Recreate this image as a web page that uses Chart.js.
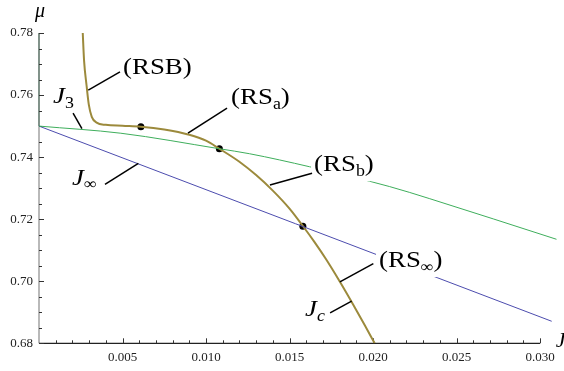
<!DOCTYPE html>
<html>
<head>
<meta charset="utf-8">
<script src="https://cdn.jsdelivr.net/npm/chart.js@4.4.0/dist/chart.umd.min.js"></script>
<style>
  html, body { margin: 0; padding: 0; background: #fff; }
  #wrap { width: 564px; height: 371px; }
</style>
</head>
<body>
<div id="wrap"><canvas id="chart"></canvas></div>
<script>
// Valori: J in ascissa, mu in ordinata
const rsbJ  = [0.00262, 0.00270, 0.00285, 0.00298, 0.00316, 0.00345, 0.0040, 0.0050, 0.0061, 0.0075, 0.0090, 0.0100, 0.0108, 0.0120, 0.0130, 0.0140, 0.0150, 0.0158, 0.0165, 0.0172, 0.0180, 0.0188, 0.0195, 0.0201];
const rsbMu = [0.7800, 0.7710, 0.7630, 0.7570, 0.7530, 0.7511, 0.7504, 0.7501, 0.7498, 0.7489, 0.7472, 0.7453, 0.7427, 0.7385, 0.7342, 0.7292, 0.7234, 0.7178, 0.7126, 0.7070, 0.7000, 0.6926, 0.6859, 0.6800];

const j3J  = [0, 0.0049, 0.0108, 0.0126, 0.0162, 0.0210, 0.0234, 0.0310];
const j3Mu = [0.7500, 0.7477, 0.7427, 0.7411, 0.7369, 0.7305, 0.7266, 0.7135];

const jInfJ  = [0, 0.0307];
const jInfMu = [0.7500, 0.6871];

const dotJ  = [0.0061, 0.0108, 0.0158];
const dotMu = [0.7498, 0.7427, 0.7177];

// Tick etichettati
const xTicks = [0.005, 0.010, 0.015, 0.020, 0.025, 0.030];
const yTicks = [0.68, 0.70, 0.72, 0.74, 0.76, 0.78];

// Etichette: testo (r = normale, i = corsivo, s = pedice), ancoraggio e linea di richiamo
const labelParts = [
    [['(RSB)', 'r']],
    [['J', 'i'], ['3', 's']],
    [['J', 'i'], ['∞', 's']],
    [['(RS', 'r'], ['a', 's'], [')', 'r']],
    [['(RS', 'r'], ['b', 's'], [')', 'r']],
    [['(RS', 'r'], ['∞', 's'], [')', 'r']],
    [['J', 'i'], ['c', 'si']]
];
const labelJ   = [0.00503, 0.00084, 0.00198, 0.01150, 0.01647, 0.02036, 0.01593];
const labelMu  = [0.7687, 0.7594, 0.7332, 0.7590, 0.7374, 0.7065, 0.6907];
const leadFromJ  = [0.00295, 0.00204, 0.00395, 0.00892, 0.01383, 0.01802, 0.01743];
const leadFromMu = [0.7616, 0.7542, 0.7312, 0.7477, 0.7310, 0.6998, 0.6898];
const leadToJ    = [0.00485, 0.00257, 0.00595, 0.01126, 0.01635, 0.02002, 0.01872];
const leadToMu   = [0.7675, 0.7492, 0.7380, 0.7558, 0.7348, 0.7057, 0.6936];

const SERIF = "'Liberation Serif', 'DejaVu Serif', serif";
const STRETCH = 1.12; // il testo dell'originale è un po' più largo
const toPoints = (xs, ys) => xs.map((x, i) => ({ x, y: ys[i] }));

const partFont = (st) =>
    st === 'r'  ? `24px ${SERIF}` :
    st === 'i'  ? `italic 24px ${SERIF}` :
    st === 'si' ? `italic 16px ${SERIF}` : `16px ${SERIF}`;

// Assi in stile Mathematica: tacche verso l'interno
const frameAxes = {
    id: 'frameAxes',
    beforeDatasetsDraw(chart) {
        const { ctx, scales: { x, y } } = chart;
        const x0 = x.getPixelForValue(0);
        const y0 = y.getPixelForValue(0.68);
        ctx.save();
        ctx.lineWidth = 1.2;
        // asse y: grigio in basso, verde scuro sopra 0.75
        ctx.strokeStyle = '#8a8a8a';
        ctx.beginPath();
        ctx.moveTo(x0, y0);
        ctx.lineTo(x0, y.getPixelForValue(0.75));
        ctx.stroke();
        ctx.strokeStyle = '#2e4a3c';
        ctx.beginPath();
        ctx.moveTo(x0, y.getPixelForValue(0.75));
        ctx.lineTo(x0, y.getPixelForValue(0.78));
        ctx.stroke();
        // asse x
        ctx.strokeStyle = '#222';
        ctx.beginPath();
        ctx.moveTo(x0, y0);
        ctx.lineTo(x.getPixelForValue(0.030), y0);
        ctx.stroke();

        ctx.lineWidth = 1;
        ctx.strokeStyle = '#333';
        ctx.beginPath();
        for (let k = 1; k <= 30; k++) {
            const px = Math.round(x.getPixelForValue(k / 1000)) + 0.5;
            const len = k % 5 === 0 ? 5 : 3;
            ctx.moveTo(px, y0);
            ctx.lineTo(px, y0 - len);
        }
        for (let k = 0; k <= 20; k++) {
            const py = Math.round(y.getPixelForValue(0.68 + k * 0.005)) + 0.5;
            const len = k % 4 === 0 ? 5 : 3;
            ctx.moveTo(x0, py);
            ctx.lineTo(x0 + len, py);
        }
        ctx.stroke();
        ctx.restore();
    },
    afterDatasetsDraw(chart) {
        const { ctx, chartArea, scales: { x, y } } = chart;
        ctx.save();
        ctx.textBaseline = 'middle';
        ctx.textAlign = 'left';

        labelParts.forEach((parts, i) => {
            const lx = x.getPixelForValue(labelJ[i]);
            const ly = y.getPixelForValue(labelMu[i]);
            let w = 0;
            const widths = parts.map(([t, st]) => {
                ctx.font = partFont(st);
                const tw = ctx.measureText(t).width * STRETCH;
                w += tw;
                return tw;
            });
            ctx.fillStyle = '#fff';
            ctx.fillRect(lx - 3, ly - 13, w + 4, 29);

            // linea di richiamo
            ctx.strokeStyle = '#000';
            ctx.lineWidth = 1.5;
            ctx.beginPath();
            ctx.moveTo(x.getPixelForValue(leadFromJ[i]), y.getPixelForValue(leadFromMu[i]));
            ctx.lineTo(x.getPixelForValue(leadToJ[i]), y.getPixelForValue(leadToMu[i]));
            ctx.stroke();

            ctx.fillStyle = '#000';
            let cx = lx;
            parts.forEach(([t, st], k) => {
                ctx.font = partFont(st);
                const dy = (st === 's' || st === 'si') ? 7 : 0;
                ctx.save();
                ctx.translate(cx, ly + dy);
                ctx.scale(STRETCH, 1);
                ctx.fillText(t, 0, 0);
                ctx.restore();
                cx += widths[k];
            });
        });

        // titoli degli assi
        ctx.fillStyle = '#000';
        ctx.font = `italic 20px ${SERIF}`;
        ctx.textAlign = 'center';
        ctx.fillText('μ', chartArea.left + 1, chartArea.top - 21);
        ctx.textAlign = 'left';
        ctx.font = `italic 22px ${SERIF}`;
        ctx.fillText('J', chartArea.right - 1, chartArea.bottom - 2);
        ctx.restore();
    }
};

new Chart(document.getElementById('chart'), {
    type: 'scatter',
    data: {
        datasets: [
            {
                data: toPoints(j3J, j3Mu),
                showLine: true,
                borderColor: '#3fae5c',
                borderWidth: 1,
                pointRadius: 0,
                cubicInterpolationMode: 'monotone'
            },
            {
                data: toPoints(jInfJ, jInfMu),
                showLine: true,
                borderColor: '#4c4cae',
                borderWidth: 1,
                pointRadius: 0
            },
            {
                data: toPoints(rsbJ, rsbMu),
                showLine: true,
                borderColor: '#9c8a3c',
                borderWidth: 2,
                pointRadius: 0,
                cubicInterpolationMode: 'monotone'
            },
            {
                data: toPoints(dotJ, dotMu),
                showLine: false,
                pointRadius: 3.5,
                backgroundColor: '#000',
                borderWidth: 0
            }
        ]
    },
    options: {
        responsive: true,
        maintainAspectRatio: false,
        animation: false,
        events: [],
        layout: { padding: { top: 33, right: 7.3, left: 0, bottom: 0 } },
        plugins: { legend: { display: false }, tooltip: { enabled: false } },
        scales: {
            x: {
                type: 'linear',
                min: 0,
                max: 0.031,
                grid: { display: false, drawTicks: false },
                border: { display: false },
                afterBuildTicks: (scale) => { scale.ticks = xTicks.map(v => ({ value: v })); },
                afterFit: (scale) => { scale.height = 27.7; },
                ticks: {
                    padding: 6,
                    color: '#222',
                    font: { family: SERIF, size: 13 },
                    callback: (v) => v.toFixed(3)
                }
            },
            y: {
                type: 'linear',
                min: 0.68,
                max: 0.78,
                grid: { display: false, drawTicks: false },
                border: { display: false },
                afterBuildTicks: (scale) => { scale.ticks = yTicks.map(v => ({ value: v })); },
                afterFit: (scale) => { scale.width = 39; },
                ticks: {
                    padding: 6,
                    color: '#222',
                    font: { family: SERIF, size: 13 },
                    callback: (v) => v.toFixed(2)
                }
            }
        }
    },
    plugins: [frameAxes]
});
</script>
</body>
</html>
